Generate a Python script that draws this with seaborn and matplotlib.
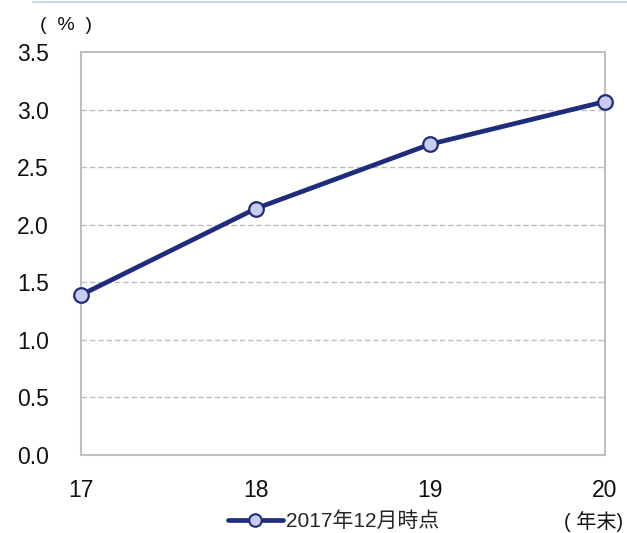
import numpy as np
import pandas as pd
import seaborn as sns
import matplotlib.pyplot as plt
from matplotlib.lines import Line2D

years = [17, 18, 19, 20]
rates = [1.39, 2.14, 2.70, 3.07]
series_name = "2017年12月時点"
y_ticks = [0.0, 0.5, 1.0, 1.5, 2.0, 2.5, 3.0, 3.5]

df = pd.DataFrame({"year": years, "rate": rates})

sns.set_theme(style="white")
plt.rcParams['font.family'] = ['Liberation Sans', 'Noto Sans CJK JP']

navy = "#1f2c7c"
face = "#c8cdf0"
grid_c = "#bfbfbf"
txt = "#111111"

fig = plt.figure(figsize=(6.27, 5.33), dpi=100)
ax = fig.add_axes([0.1292, 0.1463, 0.965 - 0.1292, 0.9024 - 0.1463])

sns.lineplot(data=df, x="year", y="rate", ax=ax, color=navy, linewidth=3.4,
             marker="o", markersize=10.5, markerfacecolor=face,
             markeredgecolor=navy, markeredgewidth=1.6, legend=False)
for ln in ax.lines:
    ln.set_clip_on(False)
    ln.set_zorder(5)

ax.set_xlim(17, 20)
ax.set_ylim(0, 3.5)
ax.set_xticks(years)
ax.set_xticklabels([str(y) for y in years])
ax.set_yticks(y_ticks)
ax.set_yticklabels([f"{v:.1f}" for v in y_ticks])
ax.set_xlabel("")
ax.set_ylabel("")

for v in y_ticks[1:-1]:
    ax.axhline(v, color=grid_c, linewidth=1, linestyle=(0, (4, 2)), zorder=0)

for s in ax.spines.values():
    s.set_color(grid_c)
    s.set_linewidth(1.5)

ax.tick_params(axis="y", length=6, width=1.5, color=grid_c,
               labelsize=16.5, labelcolor=txt, pad=17)
ax.tick_params(axis="x", length=5, width=1.5, color=grid_c,
               labelsize=16.5, labelcolor=txt, pad=12)

fig.text(0.064, 0.953, "(  %  )", fontsize=14, ha="left", va="center", color=txt)
fig.text(0.994, 0.022, "( 年末)", fontsize=14.5, ha="right", va="center", color=txt)

# thin light-blue rule at the very top
fig.add_artist(Line2D([0.053, 1.0], [0.996, 0.996], transform=fig.transFigure,
                      color="#c5d9f1", linewidth=1.5))

handle = Line2D([], [], color=navy, linewidth=3.4, marker="o", markersize=9,
                markerfacecolor=face, markeredgecolor=navy, markeredgewidth=1.5)
fig.legend([handle], [series_name], loc="center", bbox_to_anchor=(0.532, 0.022),
           frameon=False, fontsize=15, handlelength=2.6, handletextpad=0.15)

fig.savefig("out.png", dpi=100)
